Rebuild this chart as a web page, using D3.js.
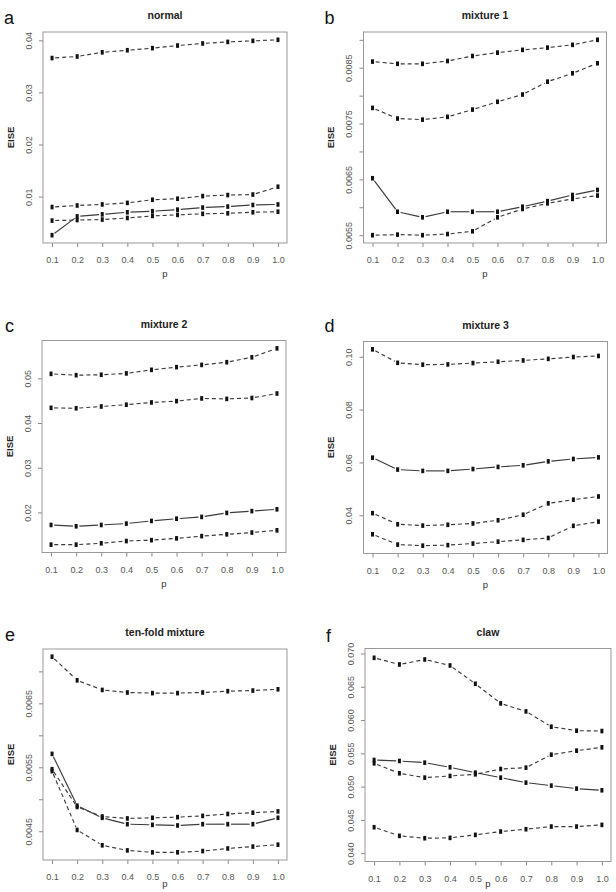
<!DOCTYPE html>
<html><head><meta charset="utf-8">
<script src="https://cdn.jsdelivr.net/npm/d3@7/dist/d3.min.js"></script>
<style>
body{margin:0;background:#fff}
svg{display:block}
text{font-family:"Liberation Sans",Arial,Helvetica,sans-serif}
</style>
</head><body>
<svg id="chart" width="616" height="892"></svg>
<script>
// ---- data ----
const pValues = [0.1,0.2,0.3,0.4,0.5,0.6,0.7,0.8,0.9,1.0];
const xTickLabels = ["0.1","0.2","0.3","0.4","0.5","0.6","0.7","0.8","0.9","1.0"];
const panelLetters = ["a","b","c","d","e","f"];
const panelTitles = ["normal","mixture 1","mixture 2","mixture 3","ten-fold mixture","claw"];

// normal
const normalTop    = [0.0366,0.0369,0.0377,0.0381,0.0385,0.0390,0.0394,0.0397,0.0399,0.0401];
const normalMid    = [0.0080,0.0083,0.0085,0.0088,0.0094,0.0096,0.0101,0.0103,0.0104,0.0119];
const normalSolid  = [0.0026,0.0062,0.0066,0.0070,0.0072,0.0075,0.0079,0.0081,0.0084,0.0085];
const normalLow    = [0.0054,0.0055,0.0056,0.0059,0.0063,0.0065,0.0067,0.0068,0.0070,0.0071];
// mixture 1
const mix1Top   = [0.00861,0.00857,0.00857,0.00862,0.00871,0.00877,0.00882,0.00886,0.00891,0.00900];
const mix1Mid   = [0.00778,0.00759,0.00757,0.00762,0.00775,0.00789,0.00802,0.00825,0.00840,0.00858];
const mix1Solid = [0.00652,0.00592,0.00582,0.00592,0.00592,0.00592,0.00601,0.00611,0.00622,0.00631];
const mix1Low   = [0.00550,0.00551,0.00550,0.00552,0.00557,0.00582,0.00597,0.00607,0.00615,0.00621];
// mixture 2
const mix2Top   = [0.0510,0.0507,0.0508,0.0511,0.0519,0.0525,0.0530,0.0536,0.0547,0.0567];
const mix2Mid   = [0.0434,0.0433,0.0437,0.0441,0.0446,0.0449,0.0455,0.0454,0.0456,0.0466];
const mix2Solid = [0.0172,0.0169,0.0172,0.0175,0.0181,0.0186,0.0190,0.0199,0.0203,0.0207];
const mix2Low   = [0.0128,0.0128,0.0131,0.0136,0.0138,0.0142,0.0147,0.0151,0.0155,0.0160];
// mixture 3
const mix3Top   = [0.1028,0.0977,0.0970,0.0971,0.0976,0.0981,0.0986,0.0992,0.0999,0.1003];
const mix3Solid = [0.0618,0.0573,0.0568,0.0568,0.0575,0.0583,0.0589,0.0604,0.0613,0.0619];
const mix3Mid   = [0.0408,0.0366,0.0361,0.0364,0.0369,0.0381,0.0402,0.0445,0.0459,0.0471];
const mix3Low   = [0.0328,0.0289,0.0285,0.0287,0.0293,0.0300,0.0307,0.0314,0.0360,0.0376];
// ten-fold mixture
const tenTop   = [0.00723,0.00686,0.00671,0.00667,0.00666,0.00666,0.00667,0.00669,0.00670,0.00672];
const tenSolid = [0.00571,0.00490,0.00471,0.00461,0.00460,0.00459,0.00461,0.00461,0.00461,0.00471];
const tenMid   = [0.00547,0.00488,0.00473,0.00470,0.00471,0.00472,0.00474,0.00477,0.00479,0.00481];
const tenLow   = [0.00544,0.00452,0.00428,0.00420,0.00417,0.00417,0.00419,0.00423,0.00426,0.00429];
// claw
const clawTop   = [0.06935,0.06835,0.0691,0.0682,0.06545,0.0625,0.0613,0.0590,0.0584,0.05835];
const clawSolid = [0.0540,0.05385,0.0536,0.0529,0.0521,0.05135,0.0506,0.05015,0.0497,0.04945];
const clawMid   = [0.0535,0.0520,0.05135,0.0516,0.05185,0.05265,0.05285,0.0548,0.0554,0.0559];
const clawLow   = [0.0439,0.0426,0.04225,0.0423,0.04275,0.04325,0.0436,0.0440,0.0440,0.04425];

// y axis limits and ticks
const yLimits = [[0.0011,0.0416],[0.00536,0.00914],[0.01104,0.05846],[0.02553,0.10577],[0.00405,0.00735],[0.03875,0.07075]];
const yTicksA = [0.01,0.02,0.03,0.04];
const yTickLabelsA = ["0.01","0.02","0.03","0.04"];
const yTicksB = [0.0055,0.006,0.0065,0.007,0.0075,0.008,0.0085,0.009];
const yTickLabelsB = ["0.0055","","0.0065","","0.0075","","0.0085",""];
const yTicksC = [0.02,0.03,0.04,0.05];
const yTickLabelsC = ["0.02","0.03","0.04","0.05"];
const yTicksD = [0.04,0.06,0.08,0.10];
const yTickLabelsD = ["0.04","0.06","0.08","0.10"];
const yTicksE = [0.0045,0.005,0.0055,0.006,0.0065,0.007];
const yTickLabelsE = ["0.0045","","0.0055","","0.0065",""];
const yTicksF = [0.040,0.045,0.050,0.055,0.060,0.065,0.070];
const yTickLabelsF = ["0.040","0.045","0.050","0.055","0.060","0.065","0.070"];

// ---- layout (not data) ----
const layout = [
  {left:43, top:32, w:244, h:211},
  {left:363.5, top:32, w:243, h:211},
  {left:42, top:340.5, w:244, h:212},
  {left:363.5, top:341.5, w:244, h:212},
  {left:43, top:649, w:244, h:211},
  {left:365, top:648.5, w:246, h:213}
];
const letterPos = [[4,23.5],[324.5,23.5],[5,331.5],[324.5,331.5],[5,640.5],[326,641.5]];

const panels = [
  {series:[[normalTop,true],[normalMid,true],[normalSolid,false],[normalLow,true]], ticks:yTicksA, labels:yTickLabelsA},
  {series:[[mix1Top,true],[mix1Mid,true],[mix1Solid,false],[mix1Low,true]], ticks:yTicksB, labels:yTickLabelsB},
  {series:[[mix2Top,true],[mix2Mid,true],[mix2Solid,false],[mix2Low,true]], ticks:yTicksC, labels:yTickLabelsC},
  {series:[[mix3Top,true],[mix3Solid,false],[mix3Mid,true],[mix3Low,true]], ticks:yTicksD, labels:yTickLabelsD},
  {series:[[tenTop,true],[tenSolid,false],[tenMid,true],[tenLow,true]], ticks:yTicksE, labels:yTickLabelsE},
  {series:[[clawTop,true],[clawSolid,false],[clawMid,true],[clawLow,true]], ticks:yTicksF, labels:yTickLabelsF}
];

const svg = d3.select("#chart");
svg.append("rect").attr("width",616).attr("height",892).attr("fill","#fff");

const GAP = 3.2;
const lineColor = "#3a3a3a";

panels.forEach((pn, k) => {
  const L = layout[k];
  const g = svg.append("g").attr("transform",`translate(${L.left},${L.top})`);
  const x = d3.scaleLinear().domain([0.064,1.036]).range([0,L.w]);
  const y = d3.scaleLinear().domain(yLimits[k]).range([L.h,0]);

  // x axis
  const xa = g.append("g").attr("transform",`translate(0,${L.h})`)
    .call(d3.axisBottom(x).tickValues(pValues).tickSize(4).tickFormat((d,i)=>xTickLabels[i]));
  xa.select(".domain").remove();
  xa.selectAll(".tick line").attr("stroke","#888");
  xa.selectAll(".tick text").attr("y",20).attr("dy",null).attr("fill","#555")
    .attr("font-size","9px").attr("font-family",'"Liberation Sans",Arial,sans-serif');

  // y axis
  const ya = g.append("g")
    .call(d3.axisLeft(y).tickValues(pn.ticks).tickSize(4).tickFormat((d,i)=>pn.labels[i]));
  ya.select(".domain").remove();
  ya.selectAll(".tick line").attr("stroke","#888");
  ya.selectAll(".tick text").attr("transform","rotate(-90)").attr("x",0).attr("y",-14.5)
    .attr("dy",null).attr("text-anchor","middle").attr("dominant-baseline","central")
    .attr("fill","#555").attr("font-size","9px").attr("font-family",'"Liberation Sans",Arial,sans-serif');

  // box
  g.append("rect").attr("x",0).attr("y",0).attr("width",L.w).attr("height",L.h)
    .attr("fill","none").attr("stroke","#999").attr("stroke-width",1);

  // title
  g.append("text").attr("x",L.w/2).attr("y",-13).attr("text-anchor","middle")
    .attr("font-weight","bold").attr("font-size","10.5px").attr("fill","#222").text(panelTitles[k]);
  // axis titles (bottom row kept inside the page)
  const pY = Math.min(L.h+34, 887 - L.top);
  g.append("text").attr("x",L.w/2).attr("y",pY).attr("text-anchor","middle")
    .attr("font-size","9.5px").attr("fill","#333").text("p");
  g.append("text").attr("transform",`translate(-33,${L.h/2}) rotate(-90)`).attr("text-anchor","middle")
    .attr("dominant-baseline","central").attr("font-weight","bold").attr("font-size","9.5px")
    .attr("fill","#222").text("EISE");

  // series, R type="b"
  pn.series.forEach(([vals, dashed]) => {
    const pts = vals.map((v,i)=>[x(pValues[i]), y(v)]);
    for (let i=0;i<pts.length-1;i++){
      const [x1,y1]=pts[i], [x2,y2]=pts[i+1];
      const dx=x2-x1, dy=y2-y1, len=Math.hypot(dx,dy);
      if (len <= 2*GAP) continue;
      const ux=dx/len, uy=dy/len;
      g.append("line")
        .attr("x1",x1+ux*GAP).attr("y1",y1+uy*GAP)
        .attr("x2",x2-ux*GAP).attr("y2",y2-uy*GAP)
        .attr("stroke",lineColor).attr("stroke-width",1.15)
        .attr("stroke-dasharray",dashed?"4,3":null);
    }
    g.selectAll(null).data(pts).enter().append("rect")
      .attr("x",d=>d[0]-1.5).attr("y",d=>d[1]-2.3)
      .attr("width",3).attr("height",4.6).attr("fill","#111");
  });
});

// panel letters
panelLetters.forEach((t,k)=>{
  svg.append("text").attr("x",letterPos[k][0]).attr("y",letterPos[k][1])
    .attr("font-size","18px").attr("fill","#111").text(t);
});
</script>
</body></html>
